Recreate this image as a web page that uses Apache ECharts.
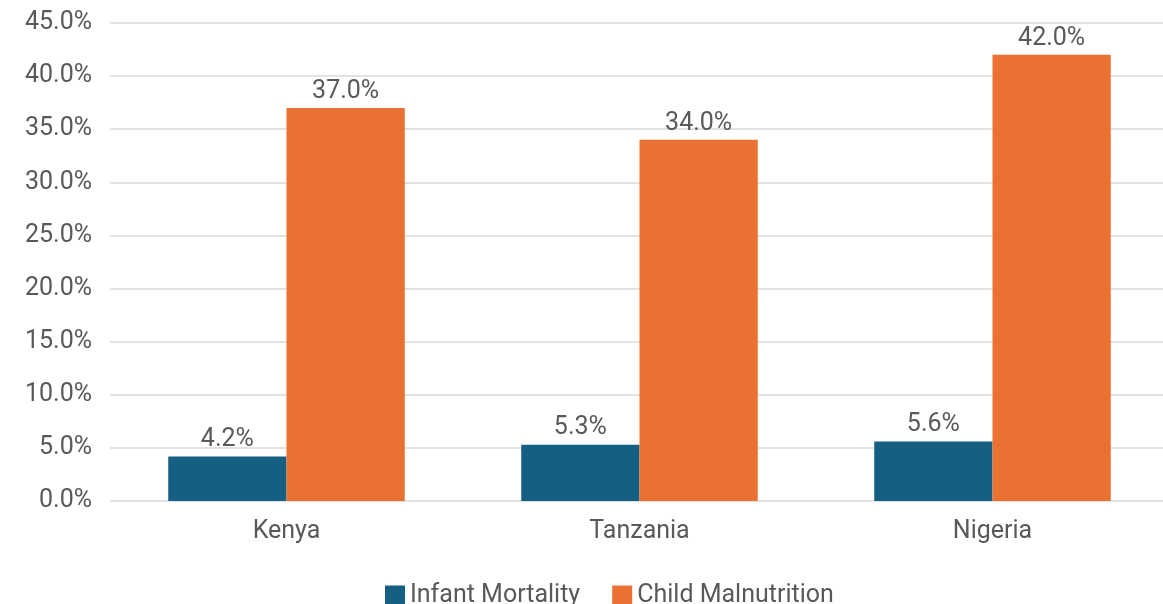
<!DOCTYPE html>
<html>
<head>
<meta charset="UTF-8">
<script src="https://cdn.jsdelivr.net/npm/echarts@6/dist/echarts.min.js"></script>
<style>
  html, body { margin: 0; padding: 0; background: #fff; }
  #chart { width: 1163px; height: 604px; }
</style>
</head>
<body>
<div id="chart"></div>
<script>
var countries = ['Kenya', 'Tanzania', 'Nigeria'];
var infantMortality = [4.2, 5.3, 5.6];
var childMalnutrition = [37.0, 34.0, 42.0];
var seriesNames = ['Infant Mortality', 'Child Malnutrition'];

var chart = echarts.init(document.getElementById('chart'));
var txt = '#595959';
var fnt = 'Roboto, "Liberation Sans", sans-serif';
var fs = 25;

function pct(v) { return v.toFixed(1) + '%'; }

var labelStyle = {
  show: true,
  position: 'top',
  distance: 4,
  color: txt,
  fontSize: fs,
  fontFamily: fnt,
  formatter: function (p) { return pct(p.value); }
};

chart.setOption({
  animation: false,
  textStyle: { fontFamily: fnt },
  grid: { left: 110, top: 23, bottom: 103, width: 1059, outerBoundsMode: 'none', containLabel: false },
  legend: {
    data: seriesNames,
    left: 380,
    top: 578,
    itemWidth: 20,
    itemHeight: 20,
    itemGap: 32,
    icon: 'rect',
    textStyle: { color: txt, fontSize: fs, fontFamily: fnt }
  },
  xAxis: {
    type: 'category',
    data: countries,
    axisLine: { show: false },
    axisTick: { show: false },
    axisLabel: { color: txt, fontSize: fs, fontFamily: fnt, margin: 18 }
  },
  yAxis: {
    type: 'value',
    min: 0,
    max: 45,
    interval: 5,
    axisLine: { show: false },
    axisTick: { show: false },
    splitLine: { lineStyle: { color: '#d9d9d9', width: 1.5 } },
    axisLabel: { color: txt, fontSize: fs, fontFamily: fnt, margin: 18, formatter: function (v) { return pct(v); } }
  },
  series: [
    {
      name: seriesNames[0],
      type: 'bar',
      data: infantMortality,
      itemStyle: { color: '#156082' },
      barGap: '0%',
      barCategoryGap: '33%',
      label: labelStyle
    },
    {
      name: seriesNames[1],
      type: 'bar',
      data: childMalnutrition,
      itemStyle: { color: '#E97132' },
      barGap: '0%',
      barCategoryGap: '33%',
      label: labelStyle
    }
  ]
});
</script>
</body>
</html>
